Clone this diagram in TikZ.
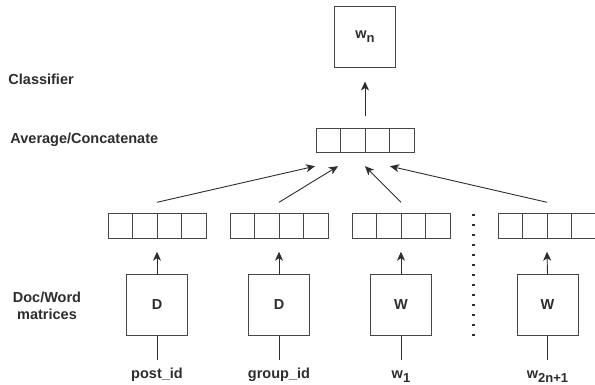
\documentclass[tikz,border=0pt]{standalone}
\usepackage{fontspec}
\setmainfont{Liberation Sans}
\usetikzlibrary{arrows.meta,calc}
\definecolor{ink}{RGB}{45,45,45}
\definecolor{edge}{RGB}{70,70,70}
\newcommand{\lowsub}[1]{\raisebox{-4pt}{\fontsize{13}{13}\selectfont #1}}
\begin{document}
\begin{tikzpicture}[x=1pt,y=-1pt,line width=0.9pt,
  every node/.style={font=\fontsize{14.5}{17.3}\selectfont\bfseries,text=ink},
  mat/.style={draw=edge,minimum width=61pt,minimum height=61pt,inner sep=0pt},
  vec/.style={draw=edge,minimum width=98pt,minimum height=24.5pt,inner sep=0pt,
    path picture={\foreach \k in {1,2,3}{
      \draw[edge] ($(path picture bounding box.south west)!\k/4!(path picture bounding box.south east)$)
        -- ($(path picture bounding box.north west)!\k/4!(path picture bounding box.north east)$);}}},
  arr/.style={draw=ink,-{Stealth[length=9pt,width=8pt,inset=2.5pt]}},
  inlbl/.style={anchor=base,text height=10.5pt,inner ysep=7.5pt,inner xsep=0pt},
  side/.style={anchor=west,inner sep=0pt}]
\useasboundingbox (0,0) rectangle (595,385);

% row captions
\node[side] (cls) at (8,79) {Classifier};
\node[side] (avgcap) at (10,140) {Average/Concatenate};
\node[align=center,inner sep=0pt] (doccap) at (47,305.5) {Doc/Word\\matrices};

% output word and combined vector
\node[mat] (wn) at (365,36.5) {w\lowsub{n}};
\node[vec] (avg) at (365,140.5) {};
\draw[arr] ([yshift=12pt]avg.north) -- ([yshift=-14pt]wn.south);

% per-input vectors
\node[vec] (v1) at (157,226) {};
\node[vec] (v2) at (279,226) {};
\node[vec] (v3) at (401,226) {};
\node[vec] (v4) at (547,226) {};

% matrices
\node[mat] (b1) at (157,305) {D};
\node[mat] (b2) at (279,305) {D};
\node[mat] (b3) at (401,305) {W};
\node[mat] (b4) at (547.5,305) {W};

% inputs
\node[inlbl] (l1) at (157,378) {post\_id};
\node[inlbl] (l2) at (279,378) {group\_id};
\node[inlbl] (l3) at (401,378) {w\lowsub{1}};
\node[inlbl] (l4) at (547.5,378) {w\lowsub{2n+1}};

\foreach \i in {1,2,3,4}{
  \draw[ink] (b\i.south) -- (l\i.north);
  \draw[arr] (b\i.north) -- ([yshift=-13pt]v\i.south);
}

% arrows into the combined vector
\coordinate (t1) at ($(avg.south)+(-50,13)$);
\coordinate (t2) at ($(avg.south)+(-27,13)$);
\coordinate (t3) at ($(avg.south)+(0,13)$);
\coordinate (t4) at ($(avg.south)+(25,13)$);
\foreach \i in {1,2,3,4}{
  \draw[arr] ([yshift=11pt]v\i.north) -- (t\i);
}

% ellipsis between word columns
\coordinate (d1) at (473.5,214);
\coordinate (d2) at (473.5,336.5);
\draw[ink,line width=2.2pt,dash pattern=on 2.2pt off 7.8pt] (d1) -- (d2);
\end{tikzpicture}
\end{document}
